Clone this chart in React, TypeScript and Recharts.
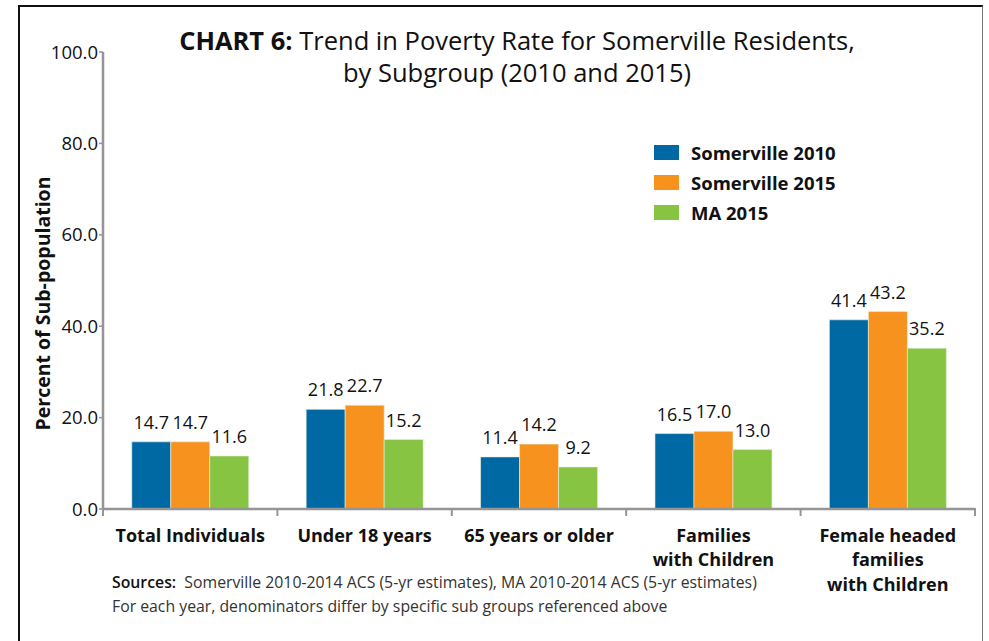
import React from "react";
import { BarChart, Bar, XAxis, YAxis, LabelList, Legend } from "recharts";

const categories = [
  "Total Individuals",
  "Under 18 years",
  "65 years or older",
  "Families\nwith Children",
  "Female headed\nfamilies\nwith Children",
];
const somerville2010 = [14.7, 21.8, 11.4, 16.5, 41.4];
const somerville2015 = [14.7, 22.7, 14.2, 17.0, 43.2];
const ma2015 = [11.6, 15.2, 9.2, 13.0, 35.2];
const yTicks = [0, 20, 40, 60, 80, 100];
const seriesNames = ["Somerville 2010", "Somerville 2015", "MA 2015"];
const seriesColors = ["#0069A3", "#F7921E", "#86C441"];

const data = categories.map((c, i) => ({
  name: c,
  s2010: somerville2010[i],
  s2015: somerville2015[i],
  ma2015: ma2015[i],
}));

const FONT = "'Open Sans', Lato, sans-serif";

const XTick = (props: any) => {
  const { x, y, payload, index, visibleTicksCount } = props;
  const off = payload.offset || 0;
  const lines = String(payload.value).split("\n");
  return (
    <g>
      <line x1={x - off} y1={y} x2={x - off} y2={y + 7} stroke="#939598" strokeWidth={2} />
      {index === visibleTicksCount - 1 && (
        <line x1={x + off} y1={y - 1} x2={x + off} y2={y + 7} stroke="#939598" strokeWidth={2} />
      )}
      <text x={x} y={y} textAnchor="middle" fontFamily={FONT} fontWeight={700} fontSize={18} fill="#111">
        {lines.map((l, i) => (
          <tspan key={i} x={x} dy={i === 0 ? 32.5 : 24.5}>
            {l}
          </tspan>
        ))}
      </text>
    </g>
  );
};

const LegendContent = () => (
  <div style={{ fontFamily: FONT }}>
    {seriesNames.map((n, i) => (
      <div key={n} style={{ display: "flex", alignItems: "center", height: 30 }}>
        <div style={{ width: 25, height: 15, background: seriesColors[i], marginRight: 12 }} />
        <span style={{ fontWeight: 700, fontSize: 18.5, color: "#111" }}>{n}</span>
      </div>
    ))}
  </div>
);

const YLabel = (props: any) => {
  const { viewBox } = props;
  const cx = 42;
  const cy = viewBox.y + viewBox.height / 2 + 23;
  return (
    <text
      x={cx}
      y={cy}
      transform={`rotate(-90, ${cx}, ${cy})`}
      textAnchor="middle"
      dominantBaseline="central"
      fontFamily={FONT}
      fontWeight={700}
      fontSize={19.5}
      fill="#111"
    >
      Percent of Sub-population
    </text>
  );
};

export default function App() {
  return (
    <div style={{ position: "absolute", left: 0, top: 0, width: 989, height: 641, overflow: "hidden", background: "#fff" }}>
      <div
        style={{
          position: "absolute",
          left: 18,
          top: 5,
          width: 962,
          height: 700,
          borderLeft: "2px solid #111",
          borderTop: "2px solid #111",
          borderRight: "1px solid #777",
        }}
      />
      <div
        style={{
          position: "absolute",
          left: 0,
          width: 1034,
          top: 24,
          textAlign: "center",
          fontFamily: FONT,
          fontSize: 25.5,
          lineHeight: "32px",
          color: "#111",
        }}
      >
        <div>
          <b>CHART 6:</b> Trend in Poverty Rate for Somerville Residents,
        </div>
        <div>by Subgroup (2010 and 2015)</div>
      </div>
      <div style={{ position: "absolute", left: 0, top: 0 }}>
        <BarChart
          width={989}
          height={641}
          data={data}
          margin={{ top: 52, right: 14, left: 43, bottom: 32 }}
          barGap={0}
          barCategoryGap="16.5%"
        >
          <XAxis
            dataKey="name"
            interval={0}
            axisLine={{ stroke: "#939598", strokeWidth: 2.5 }}
            tickLine={false}
            tickSize={0}
            tickMargin={0}
            tick={<XTick />}
            height={100}
          />
          <YAxis
            domain={[0, 100]}
            ticks={yTicks}
            tickFormatter={(v: number) => v.toFixed(1)}
            axisLine={{ stroke: "#939598", strokeWidth: 2.5 }}
            tickLine={{ stroke: "#939598", strokeWidth: 1.5 }}
            tickSize={4}
            tickMargin={1}
            width={60}
            tick={{ fontFamily: FONT, fontSize: 18.5, fill: "#111" }}
            label={<YLabel />}
          />
          <Legend
            layout="horizontal"
            verticalAlign="middle"
            align="center"
            wrapperStyle={{ left: 654, top: 137, width: 240 }}
            content={<LegendContent />}
          />
          {(["s2010", "s2015", "ma2015"] as const).map((k, i) => (
            <Bar key={k} dataKey={k} name={seriesNames[i]} fill={seriesColors[i]} stroke="#e8f0e0" strokeWidth={0.6} isAnimationActive={false}>
              <LabelList
                dataKey={k}
                position="top"
                offset={13}
                formatter={(v: number) => v.toFixed(1)}
                style={{ fontFamily: FONT, fontSize: 18, fill: "#111" }}
              />
            </Bar>
          ))}
        </BarChart>
      </div>
      <div
        style={{
          position: "absolute",
          left: 112,
          top: 570,
          fontFamily: FONT,
          fontSize: 15.8,
          lineHeight: "24px",
          color: "#333",
        }}
      >
        <div>
          <b style={{ color: "#111", fontWeight: 600 }}>Sources:</b>&nbsp; Somerville 2010-2014 ACS (5-yr estimates), MA 2010-2014 ACS (5-yr estimates)
        </div>
        <div>For each year, denominators differ by specific sub groups referenced above</div>
      </div>
    </div>
  );
}
